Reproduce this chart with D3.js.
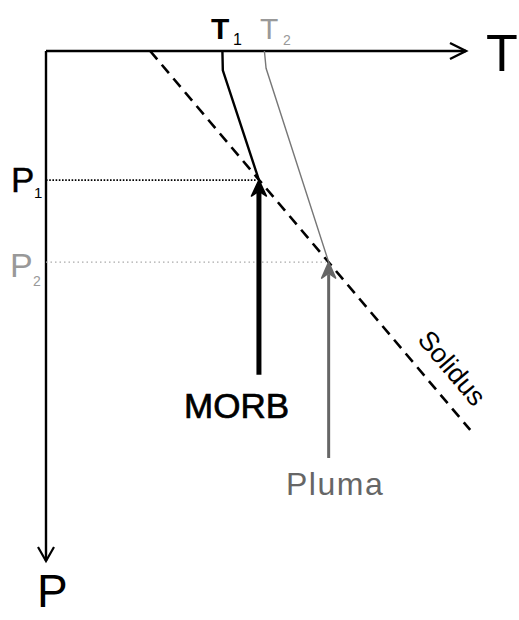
<!DOCTYPE html>
<html>
<head>
<meta charset="utf-8">
<script src="https://cdn.jsdelivr.net/npm/d3@7"></script>
<style>
  html, body { margin: 0; padding: 0; background: #fff; }
  svg { display: block; }
  text { font-family: "Liberation Sans", Arial, sans-serif; }
</style>
</head>
<body>
<svg id="chart" width="519" height="620"></svg>
<script>
// ---- data (abstract T / P units, 0..100) ----
const axisT = [0, 100];          // temperature axis extent
const axisP = [0, 100];          // pressure axis extent
const solidus = [[24.8, 0], [101, 74.3]];                 // [T, P]
const geotherm1 = [[42, 0], [42.1, 3.8], [50.7, 25.3]];   // MORB path (T1)
const geotherm2 = [[52, 0], [52.4, 3.4], [67.3, 41.4]];   // Pluma path (T2)
const P1 = 25.3, P2 = 41.4;
const arrowMORB = { T: 50.7, from: 63.5, to: P1 };
const arrowPluma = { T: 67.3, from: 79.8, to: P2 };
const labelsT = ["T", "1", "T", "2"];

// ---- scales ----
const x = d3.scaleLinear().domain(axisT).range([46, 466]);
const y = d3.scaleLinear().domain(axisP).range([51, 561]);

const svg = d3.select("#chart");
const line = d3.line().x(d => x(d[0])).y(d => y(d[1]));

// axes
svg.append("line").attr("x1", x(0)).attr("y1", y(0)).attr("x2", x(100)).attr("y2", y(0))
  .attr("stroke", "#000").attr("stroke-width", 2.6);
svg.append("path").attr("d", `M${x(100)-16},${y(0)-8}L${x(100)},${y(0)}L${x(100)-16},${y(0)+8}`)
  .attr("fill", "none").attr("stroke", "#000").attr("stroke-width", 2.4);
svg.append("line").attr("x1", x(0)).attr("y1", y(0)).attr("x2", x(0)).attr("y2", y(100))
  .attr("stroke", "#000").attr("stroke-width", 2.4);
svg.append("path").attr("d", `M${x(0)-8},${y(100)-14}L${x(0)},${y(100)}L${x(0)+8},${y(100)-14}`)
  .attr("fill", "none").attr("stroke", "#000").attr("stroke-width", 2.2);

// dotted pressure levels
svg.append("line").attr("x1", x(0)).attr("x2", x(arrowMORB.T) - 3)
  .attr("y1", y(P1)).attr("y2", y(P1))
  .attr("stroke", "#000").attr("stroke-width", 1.8).attr("stroke-dasharray", "1.6,1.6");
svg.append("line").attr("x1", x(0)).attr("x2", x(arrowPluma.T) - 3)
  .attr("y1", y(P2)).attr("y2", y(P2))
  .attr("stroke", "#aaa").attr("stroke-width", 1.4).attr("stroke-dasharray", "1.5,3");

// solidus
svg.append("path").attr("d", line(solidus)).attr("fill", "none")
  .attr("stroke", "#000").attr("stroke-width", 2.6).attr("stroke-dasharray", "11,7");

// geotherms
svg.append("path").attr("d", line(geotherm1)).attr("fill", "none")
  .attr("stroke", "#000").attr("stroke-width", 2.4);
svg.append("path").attr("d", line(geotherm2)).attr("fill", "none")
  .attr("stroke", "#777").attr("stroke-width", 1.4);

// arrows
function arrow(a, color, w, hw, hl) {
  const ax = x(a.T), y0 = y(a.from), y1 = y(a.to);
  svg.append("line").attr("x1", ax).attr("x2", ax).attr("y1", y0).attr("y2", y1 + hl - 4)
    .attr("stroke", color).attr("stroke-width", w);
  svg.append("path")
    .attr("d", `M${ax},${y1}L${ax + hw},${y1 + hl}L${ax},${y1 + hl - 5}L${ax - hw},${y1 + hl}Z`)
    .attr("fill", color).attr("stroke", color).attr("stroke-width", 1.5).attr("stroke-linejoin", "round");
}
arrow(arrowMORB, "#000", 5, 7.5, 16);
arrow(arrowPluma, "#666", 3, 7, 16);

// labels
const t1 = svg.append("text").attr("x", 211).attr("y", 39).attr("font-size", 30).attr("font-weight", "bold").attr("fill", "#000");
t1.append("tspan").text(labelsT[0]);
t1.append("tspan").attr("x", 233).attr("y", 45).attr("font-size", 16).attr("font-weight", "normal").text(labelsT[1]);
const t2 = svg.append("text").attr("x", 260).attr("y", 39).attr("font-size", 30).attr("fill", "#999");
t2.append("tspan").attr("textLength", 14).text(labelsT[2]);
t2.append("tspan").attr("x", 283).attr("y", 45).attr("font-size", 14).text(labelsT[3]);

svg.append("text").attr("x", 486).attr("y", 71).attr("font-size", 52).attr("fill", "#000").text("T");
svg.append("text").attr("x", 37).attr("y", 607).attr("font-size", 46).attr("fill", "#000").text("P");

const p1 = svg.append("text").attr("x", 11).attr("y", 192).attr("font-size", 35).attr("fill", "#000")
  .attr("stroke", "#000").attr("stroke-width", 0.4);
p1.append("tspan").text("P");
p1.append("tspan").attr("x", 34).attr("y", 198).attr("font-size", 15).attr("stroke-width", 0).text("1");
const p2 = svg.append("text").attr("x", 10).attr("y", 277).attr("font-size", 34).attr("fill", "#999");
p2.append("tspan").text("P");
p2.append("tspan").attr("x", 33).attr("y", 286).attr("font-size", 14).text("2");

svg.append("text").attr("x", 184).attr("y", 418).attr("font-size", 35).attr("fill", "#000")
  .attr("stroke", "#000").attr("stroke-width", 0.7).text("MORB");
svg.append("text").attr("x", 286).attr("y", 495).attr("font-size", 32).attr("letter-spacing", 1.5).attr("fill", "#666").text("Pluma");

// solidus label
const ang = Math.atan2(y(solidus[1][1]) - y(solidus[0][1]), x(solidus[1][0]) - x(solidus[0][0])) * 180 / Math.PI;
svg.append("text").attr("transform", `translate(445,374) rotate(${ang})`)
  .attr("text-anchor", "middle").attr("font-size", 27).attr("fill", "#000").text("Solidus");
</script>
</body>
</html>
